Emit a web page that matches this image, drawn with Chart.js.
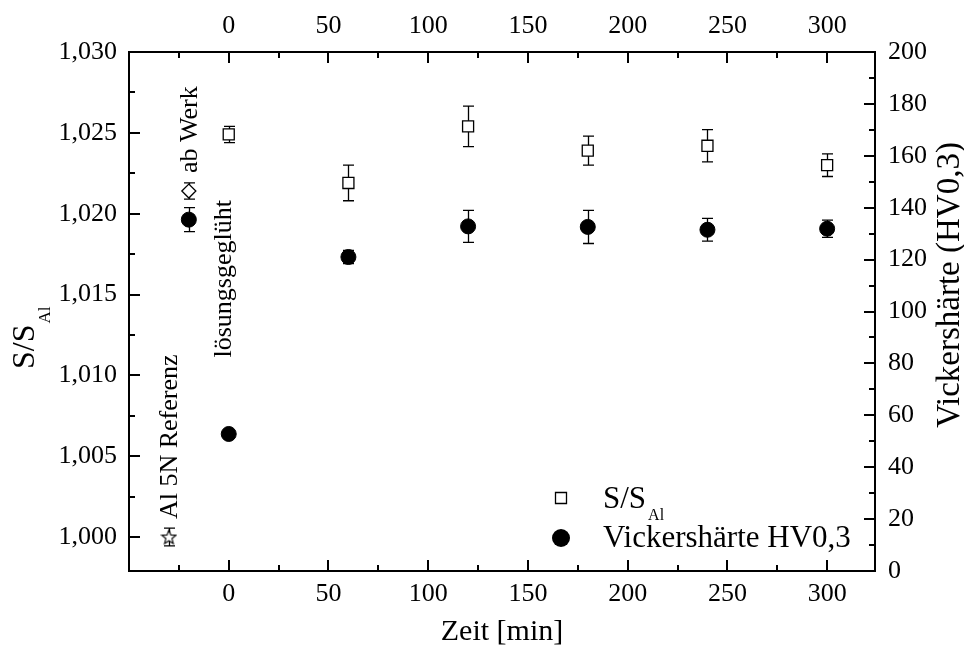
<!DOCTYPE html>
<html><head><meta charset="utf-8">
<script src="https://cdn.jsdelivr.net/npm/chart.js@4/dist/chart.umd.min.js"></script>
<style>html,body{margin:0;padding:0;background:#fff}#wrap{width:964px;height:646px}</style>
</head><body><div id="wrap"><canvas id="c"></canvas></div>
<script>
// ---- data ----
const times = [0, 60, 120, 180, 240, 300];
const ratio = [1.0249, 1.0219, 1.0254, 1.0239, 1.0242, 1.0230];
const ratioErr = [0.0005, 0.0011, 0.00125, 0.0009, 0.001, 0.0007];
const hardness = [52.8, 121.0, 132.8, 132.6, 131.5, 131.9];
const hardnessErr = [0, 2.5, 6.2, 6.4, 4.4, 3.3];
const asDeliveredTime = [-20];
const asDeliveredRatio = [1.0214];
const asDeliveredRatioErr = [0.0005];
const asDeliveredHardness = [135.4];
const asDeliveredHardnessErr = [4.6];
const referenceTime = [-30];
const referenceRatio = [1.0000];
const referenceRatioErr = [0.00055];
const xTickLabels = [0, 50, 100, 150, 200, 250, 300];
const leftTickLabels = [1.000, 1.005, 1.010, 1.015, 1.020, 1.025, 1.030];
const rightTickLabels = [0, 20, 40, 60, 80, 100, 120, 140, 160, 180, 200];

const FONT = "'Liberation Serif', 'Times New Roman', serif";
Chart.defaults.font.family = FONT;
Chart.defaults.font.size = 26;
Chart.defaults.color = '#000';

function pts(xs, ys) { return xs.map((x, i) => ({x: x, y: ys[i]})); }

// star point style (open 5-point star)
const star = document.createElement('canvas');
star.width = 17; star.height = 17;
(function(){
  const c = star.getContext('2d');
  c.beginPath();
  for (let i = 0; i < 10; i++) {
    const r = i % 2 === 0 ? 7.5 : 3.2;
    const a = -Math.PI / 2 + i * Math.PI / 5;
    const px = 8.5 + r * Math.cos(a), py = 9 + r * Math.sin(a);
    if (i === 0) c.moveTo(px, py); else c.lineTo(px, py);
  }
  c.closePath();
  c.fillStyle = '#fff'; c.fill();
  c.lineWidth = 1.1; c.strokeStyle = '#000'; c.stroke();
})();

const datasets = [
  {label: 'S/S_Al', data: pts(times, ratio), err: ratioErr, yAxisID: 'y',
   pointStyle: 'rect', pointRadius: 7.8, backgroundColor: '#fff', borderColor: '#000', borderWidth: 1.3},
  {label: 'Vickershärte HV0,3', data: pts(times, hardness), err: hardnessErr, yAxisID: 'y2',
   pointStyle: 'circle', pointRadius: 7.5, backgroundColor: '#000', borderColor: '#000', borderWidth: 1},
  {label: 'ab Werk S/S_Al', data: pts(asDeliveredTime, asDeliveredRatio), err: asDeliveredRatioErr, yAxisID: 'y',
   pointStyle: 'rectRot', pointRadius: 7, backgroundColor: '#fff', borderColor: '#000', borderWidth: 1.3},
  {label: 'ab Werk HV', data: pts(asDeliveredTime, asDeliveredHardness), err: asDeliveredHardnessErr, yAxisID: 'y2',
   pointStyle: 'circle', pointRadius: 7.5, backgroundColor: '#000', borderColor: '#000', borderWidth: 1},
  {label: 'Al 5N Referenz', data: pts(referenceTime, referenceRatio), err: referenceRatioErr, yAxisID: 'y',
   pointStyle: star, pointRadius: 8, backgroundColor: '#fff', borderColor: '#000', borderWidth: 1}
];

const errorBars = {
  id: 'errorBars',
  beforeDatasetsDraw(chart) {
    const ctx = chart.ctx;
    ctx.save();
    ctx.strokeStyle = '#000'; ctx.lineWidth = 1.3;
    chart.data.datasets.forEach((ds) => {
      const xs = chart.scales.x, ys = chart.scales[ds.yAxisID];
      ds.data.forEach((p, i) => {
        const e = ds.err[i]; if (!e) return;
        const px = Math.round(xs.getPixelForValue(p.x)) + 0.5;
        const y1 = ys.getPixelForValue(p.y + e), y2 = ys.getPixelForValue(p.y - e);
        ctx.beginPath();
        ctx.moveTo(px, y1); ctx.lineTo(px, y2);
        ctx.moveTo(px - 5.5, y1); ctx.lineTo(px + 5.5, y1);
        ctx.moveTo(px - 5.5, y2); ctx.lineTo(px + 5.5, y2);
        ctx.stroke();
      });
    });
    ctx.restore();
  }
};

function rotText(ctx, txt, x, y, size) {
  ctx.save(); ctx.translate(x, y); ctx.rotate(-Math.PI / 2);
  ctx.font = size + 'px ' + FONT; ctx.textAlign = 'left'; ctx.textBaseline = 'alphabetic';
  ctx.fillText(txt, 0, 0); ctx.restore();
}

const frame = {
  id: 'frame',
  afterDraw(chart) {
    const ctx = chart.ctx, a = chart.chartArea;
    const sx = chart.scales.x, sy = chart.scales.y, sy2 = chart.scales.y2;
    ctx.save();
    ctx.strokeStyle = '#000'; ctx.fillStyle = '#000';
    ctx.lineWidth = 2;
    ctx.strokeRect(a.left, a.top, a.right - a.left, a.bottom - a.top);
    ctx.beginPath();
    for (let v = Math.ceil(sx.min / 25) * 25; v <= sx.max; v += 25) {
      const p = Math.round(sx.getPixelForValue(v));
      if (p <= a.left + 1 || p >= a.right - 1) continue;
      const L = (v % 50 === 0) ? 11 : 6;
      ctx.moveTo(p, a.bottom); ctx.lineTo(p, a.bottom - L);
      ctx.moveTo(p, a.top); ctx.lineTo(p, a.top + L);
    }
    for (let k = Math.ceil(sy.min / 0.0025 - 1e-6); k * 0.0025 <= sy.max + 1e-9; k++) {
      const v = k * 0.0025;
      const p = Math.round(sy.getPixelForValue(v));
      if (p >= a.bottom - 1 || p <= a.top + 1) continue;
      const L = (k % 2 === 0) ? 11 : 6;
      ctx.moveTo(a.left, p); ctx.lineTo(a.left + L, p);
    }
    for (let v = sy2.min; v <= sy2.max; v += 10) {
      const p = Math.round(sy2.getPixelForValue(v));
      if (p >= a.bottom - 1 || p <= a.top + 1) continue;
      const L = (v % 20 === 0) ? 11 : 6;
      ctx.moveTo(a.right, p); ctx.lineTo(a.right - L, p);
    }
    ctx.stroke();

    // axis titles
    ctx.font = '30px ' + FONT; ctx.textAlign = 'center'; ctx.textBaseline = 'alphabetic';
    ctx.fillText('Zeit [min]', (a.left + a.right) / 2, 640);
    ctx.save(); ctx.translate(34, 369); ctx.rotate(-Math.PI / 2);
    ctx.textAlign = 'left'; ctx.font = '32px ' + FONT;
    ctx.fillText('S/S', 0, 0);
    const w = ctx.measureText('S/S').width;
    ctx.font = '17px ' + FONT; ctx.fillText('Al', w + 1, 16);
    ctx.restore();
    ctx.save(); ctx.translate(959, 285); ctx.rotate(-Math.PI / 2);
    ctx.textAlign = 'center'; ctx.font = '33px ' + FONT;
    ctx.fillText('Vickershärte (HV0,3)', 0, 0);
    ctx.restore();

    // rotated annotations
    rotText(ctx, 'ab Werk', sx.getPixelForValue(-20) + 8, sy.getPixelForValue(1.0214) - 18, 26);
    rotText(ctx, 'lösungsgeglüht', sx.getPixelForValue(0) + 2, sy.getPixelForValue(1.0111), 26);
    rotText(ctx, 'Al 5N Referenz', sx.getPixelForValue(-30) + 8, sy.getPixelForValue(1.0000) - 18, 26);

    // legend
    const lx = a.left + 432, ly1 = a.top + 446, ly2 = a.top + 486;
    ctx.fillStyle = '#fff'; ctx.strokeStyle = '#000'; ctx.lineWidth = 1.3;
    ctx.beginPath();
    ctx.rect(lx - 5.5, ly1 - 5.5, 11, 11); ctx.fill(); ctx.stroke();
    ctx.fillStyle = '#000';
    ctx.beginPath(); ctx.arc(lx, ly2, 9, 0, Math.PI * 2); ctx.fill();
    ctx.textAlign = 'left'; ctx.font = '31px ' + FONT;
    const tx = a.left + 474;
    ctx.fillText('S/S', tx, ly1 + 10);
    const w2 = ctx.measureText('S/S').width;
    ctx.font = '16px ' + FONT; ctx.fillText('Al', tx + w2 + 2, ly1 + 22);
    ctx.font = '31px ' + FONT;
    ctx.fillText('Vickershärte HV0,3', tx, ly2 + 9);
    ctx.restore();
  }
};

const fmt = v => Number(v).toFixed(3).replace('.', ',');

new Chart(document.getElementById('c'), {
  type: 'scatter',
  data: {datasets: datasets},
  plugins: [errorBars, frame],
  options: {
    responsive: true, maintainAspectRatio: false, animation: false,
    layout: {padding: 0, autoPadding: false},
    plugins: {legend: {display: false}, tooltip: {enabled: false}},
    scales: {
      x: {type: 'linear', position: 'bottom', min: -50, max: 324,
          grid: {display: false, drawTicks: false}, border: {display: false},
          ticks: {padding: 8},
          afterBuildTicks: s => { s.ticks = xTickLabels.map(v => ({value: v})); },
          afterFit: s => { s.height = 75; }},
      x2: {type: 'linear', position: 'top', min: -50, max: 324,
          grid: {display: false, drawTicks: false}, border: {display: false},
          ticks: {padding: 10},
          afterBuildTicks: s => { s.ticks = xTickLabels.map(v => ({value: v})); },
          afterFit: s => { s.height = 52; }},
      y: {type: 'linear', position: 'left', min: 0.9979, max: 1.030,
          grid: {display: false, drawTicks: false}, border: {display: false},
          ticks: {padding: 12, callback: v => fmt(v)},
          afterBuildTicks: s => { s.ticks = leftTickLabels.map(v => ({value: v})); },
          afterFit: s => { s.width = 129; }},
      y2: {type: 'linear', position: 'right', min: 0, max: 200,
          grid: {display: false, drawTicks: false}, border: {display: false},
          ticks: {padding: 13},
          afterBuildTicks: s => { s.ticks = rightTickLabels.map(v => ({value: v})); },
          afterFit: s => { s.width = 89; }}
    }
  }
});
</script></body></html>
